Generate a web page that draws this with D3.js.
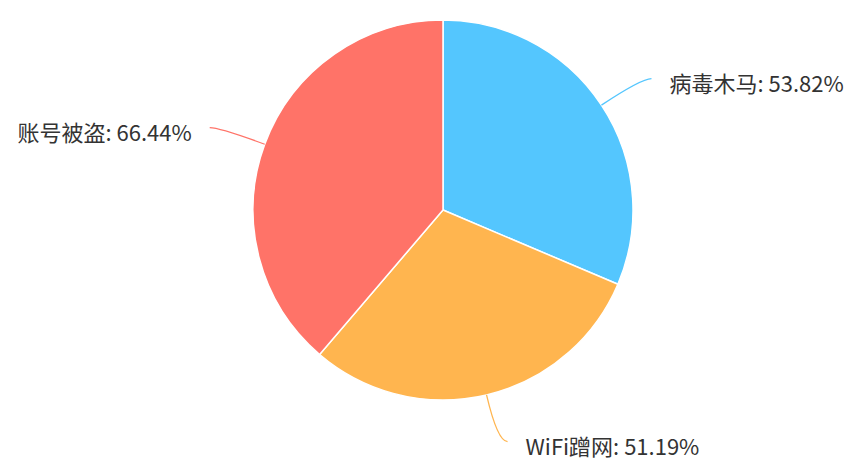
<!DOCTYPE html>
<html>
<head>
<meta charset="utf-8">
<script src="https://cdn.jsdelivr.net/npm/d3@7"></script>
<style>
  body { margin: 0; background: #fff; }
  svg { display: block; }
</style>
</head>
<body>
<div id="chart"></div>
<script>
// data
var names = ["病毒木马", "WiFi蹭网", "账号被盗"];
var values = [53.82, 51.19, 66.44];
var colors = ["#54c6fe", "#ffb54f", "#ff7368"];

var width = 848,
    height = 458,
    cx = 443,
    cy = 210,
    radius = 190;

var svg = d3.select("#chart").append("svg")
    .attr("width", width)
    .attr("height", height);

var pie = d3.pie()
    .sort(null)
    .value(function(d) { return d; });

var arcs = pie(values);

var arc = d3.arc()
    .innerRadius(0)
    .outerRadius(radius);

var g = svg.append("g")
    .attr("transform", "translate(" + cx + "," + cy + ")");

g.selectAll("path.slice")
    .data(arcs)
    .enter()
    .append("path")
    .attr("class", "slice")
    .attr("d", arc)
    .style("fill", function(d, i) { return colors[i]; })
    .style("stroke", "#fff")
    .style("stroke-width", 1.5);

// label lines: radial piece then a short horizontal piece, smoothed
var len1 = 48, len2 = 10, gap = 18;

arcs.forEach(function(d, i) {
    var mid = (d.startAngle + d.endAngle) / 2;
    var sx = Math.sin(mid), sy = -Math.cos(mid);
    var p1 = [sx * radius, sy * radius];
    var p2 = [sx * (radius + len1), sy * (radius + len1)];
    var right = sx >= 0;
    var p3 = [p2[0] + (right ? len2 : -len2), p2[1]];

    g.append("path")
        .attr("d", "M" + p1 + "Q" + p2 + " " + p3)
        .style("fill", "none")
        .style("stroke", colors[i])
        .style("stroke-width", 1.3);

    g.append("text")
        .attr("x", p3[0] + (right ? gap : -gap))
        .attr("y", p3[1] + 3)
        .attr("text-anchor", right ? "start" : "end")
        .attr("dominant-baseline", "central")
        .style("font-family", "'Noto Sans CJK SC', 'Noto Sans', sans-serif")
        .style("font-size", "22px")
        .style("fill", "#333")
        .text(names[i] + ": " + d3.format(".2f")(values[i]) + "%");
});
</script>
</body>
</html>
